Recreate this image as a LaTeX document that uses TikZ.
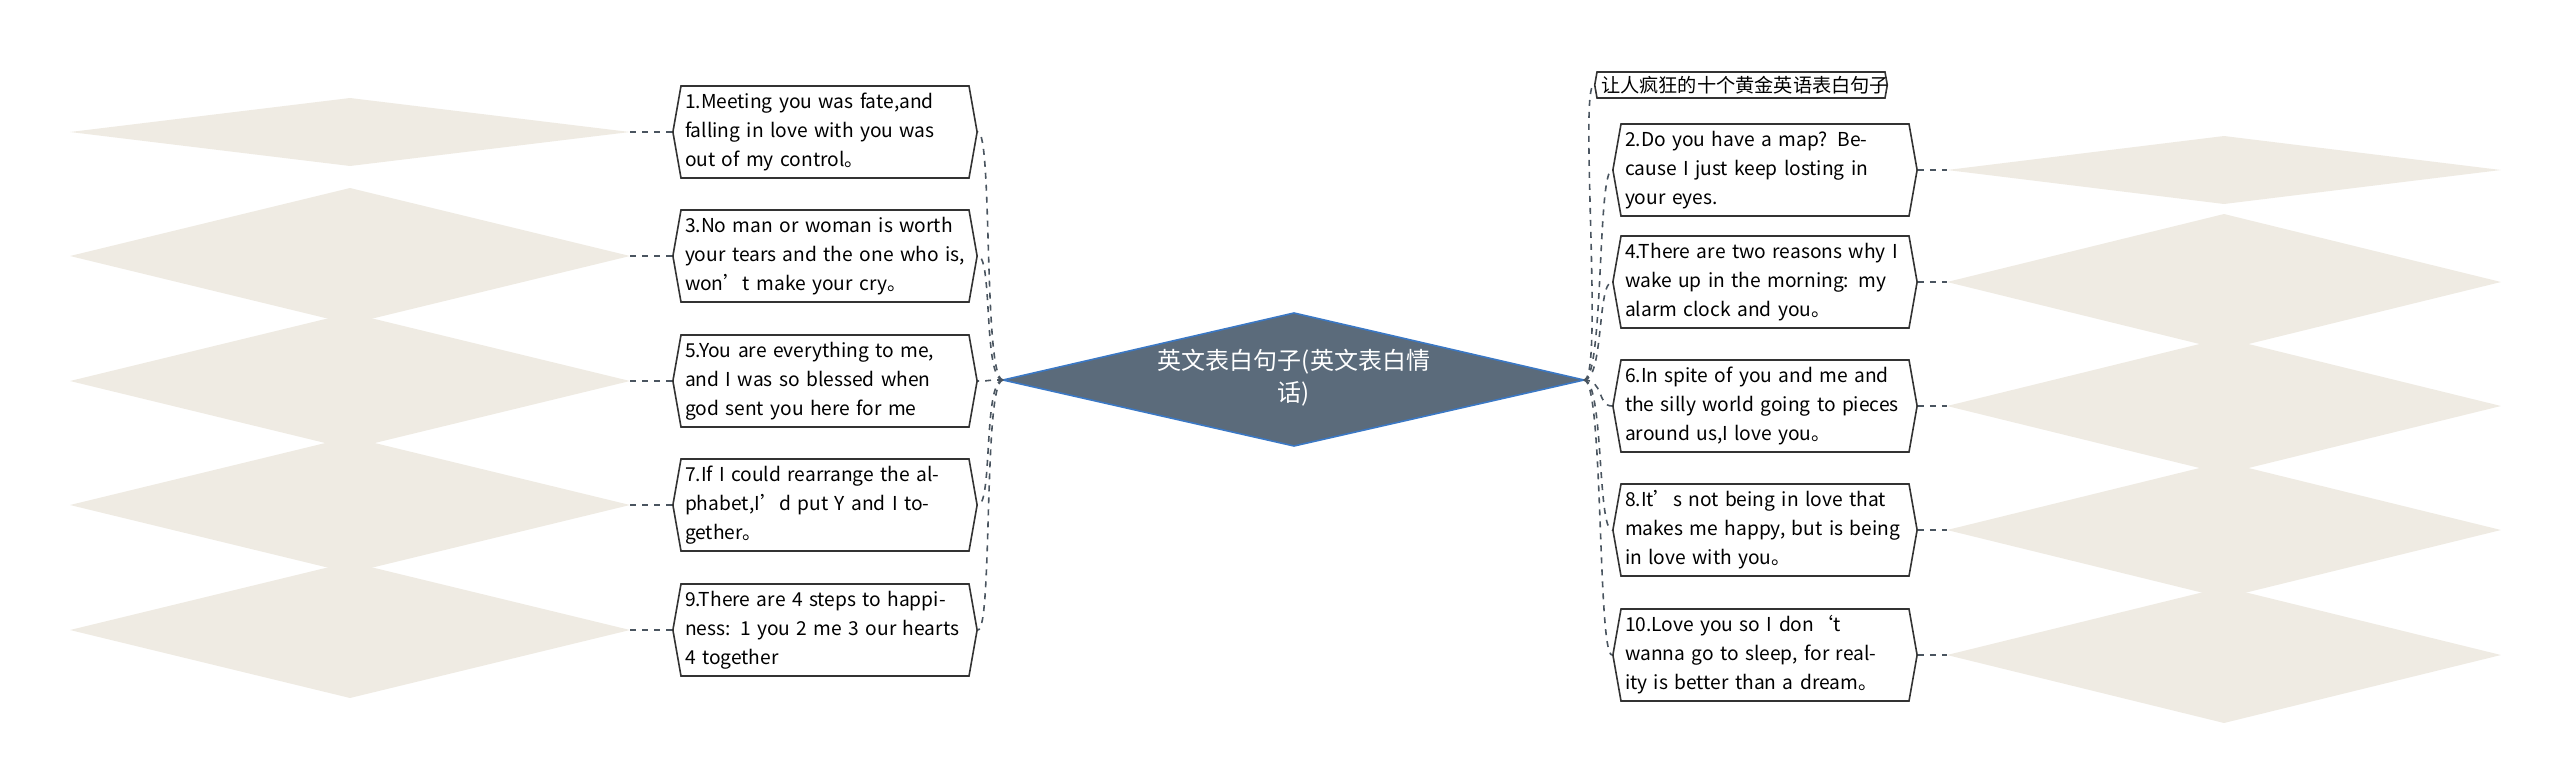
\documentclass[tikz,border=0pt]{standalone}
\usepackage{fontspec}
\setmainfont{Noto Sans CJK SC}
\usetikzlibrary{shapes.symbols}
\definecolor{leaffill}{HTML}{EFEBE3}
\definecolor{hubfill}{HTML}{5B6B7B}
\definecolor{hubline}{HTML}{3B78C4}
\definecolor{lnk}{HTML}{4A5560}
\tikzset{
  boxnode/.style={signal, signal to=west and east, signal pointer angle=160, draw=black!80, line width=0.8pt, fill=white, text width=140pt, align=left, font=\fontsize{9.6}{14.5}\selectfont, inner xsep=2pt, inner ysep=3pt, minimum height=46pt},
  leaftext/.style={anchor=west, text width=150pt, align=left, font=\fontsize{7.6}{11}\selectfont, inner sep=0pt},
  lnkline/.style={draw=lnk, dashed, line width=0.8pt}
}
\newcommand{\myleaf}[6]{% name, cx, cy, halfw, halfh, textx, text
  \fill[leaffill] (#2-#4,#3) -- (#2,#3-#5) -- (#2+#4,#3) -- (#2,#3+#5) -- cycle;
  \coordinate (#1w) at (#2-#4,#3);
  \coordinate (#1e) at (#2+#4,#3);
}
\begin{document}
\begin{tikzpicture}[x=0.5pt,y=-0.5pt]
\useasboundingbox (0,0) rectangle (2560,756);
% hub
\fill[hubfill] (1003,380) -- (1294,313) -- (1584,380) -- (1294,446) -- cycle;
\draw[hubline, line width=0.8pt] (1003,380) -- (1294,313) -- (1584,380) -- (1294,446) -- cycle;
\coordinate (hw) at (1003,380);
\coordinate (he) at (1584,380);
\node[text=white, align=center, font=\fontsize{12}{16}\selectfont] (hub) at (1294,378) {英文表白句子(英文表白情\\话)};
% left boxes
\node[boxnode] (b1) at (825,132) {1.Meeting you was fate,and falling in love with you was out of my control。};
\node[boxnode] (b3) at (825,256) {3.No man or woman is worth your tears and the one who is, won't make your cry。};
\node[boxnode] (b5) at (825,381) {5.You are everything to me, and I was so blessed when god sent you here for me};
\node[boxnode] (b7) at (825,505) {7.If I could rearrange the alphabet,I'd put Y and I together。};
\node[boxnode] (b9) at (825,630) {9.There are 4 steps to happiness: 1 you 2 me 3 our hearts 4 together};
% right boxes
\node[boxnode, text width=140pt, minimum height=0pt, inner ysep=2pt] (t0) at (1741,85) {让人疯狂的十个黄金英语表白句子};
\node[boxnode] (b2) at (1765,170) {2.Do you have a map? Because I just keep losting in your eyes.};
\node[boxnode] (b4) at (1765,282) {4.There are two reasons why I wake up in the morning: my alarm clock and you。};
\node[boxnode] (b6) at (1765,406) {6.In spite of you and me and the silly world going to pieces around us,I love you。};
\node[boxnode] (b8) at (1765,530) {8.It's not being in love that makes me happy, but is being in love with you。};
\node[boxnode] (b10) at (1765,655) {10.Love you so I don`t wanna go to sleep, for reality is better than a dream。};
% left leaves
\myleaf{l1}{350}{132}{280}{34}
\node[leaftext] (lt1) at (206,132) {遇见你是命运的安排而爱上你是我情不自禁。};
\myleaf{l3}{350}{256}{280}{68}
\node[leaftext] (lt3) at (206,256) {没人值得你为ta流泪英文表白句子，真正爱你的人不会让你哭泣。};
\myleaf{l5}{350}{381}{280}{68}
\node[leaftext] (lt5) at (206,381) {你是我的一切英文表白句子，我是如此幸运上帝让你来到我身边。};
\myleaf{l7}{350}{505}{280}{68}
\node[leaftext] (lt7) at (206,505) {如果我能重新来排列字母，我要把Y(你)跟I(我)在一起。};
\myleaf{l9}{350}{630}{280}{68}
\node[leaftext] (lt9) at (206,630) {通过四步就能幸福：1 你 2 我 3 我们的心 4 在一起。};
% right leaves
\myleaf{r2}{2224}{170}{277}{34}
\node[leaftext] (rt2) at (2087,170) {你有地图么?因为我刚在你的眼神中迷失了。};
\myleaf{r4}{2224}{282}{277}{68}
\node[leaftext] (rt4) at (2087,282) {我早上愿意醒来为两个理由英文表白句子：闹钟和你。};
\myleaf{r6}{2224}{406}{277}{68}
\node[leaftext] (rt6) at (2087,406) {哪怕是世界末日英文表白句子，我都会爱你。};
\myleaf{r8}{2224}{530}{277}{68}
\node[leaftext] (rt8) at (2087,530) {不是恋爱的感觉让我幸福而是爱上你的感觉让我幸福。};
\myleaf{r10}{2224}{655}{277}{68}
\node[leaftext] (rt10) at (2087,655) {爱你所以我不愿去睡觉，因为现实比梦境更美好。};
% connectors
\foreach \b in {b1,b3,b5,b7,b9}
  \draw[lnkline] (hw) .. controls +(-20,0) and +(15,0) .. (\b.east);
\foreach \b in {t0,b2,b4,b6,b8,b10}
  \draw[lnkline] (he) .. controls +(20,0) and +(-15,0) .. (\b.west);
\foreach \l/\b in {l1/b1,l3/b3,l5/b5,l7/b7,l9/b9}
  \draw[lnkline] (\l e) -- (\b.west);
\foreach \l/\b in {r2/b2,r4/b4,r6/b6,r8/b8,r10/b10}
  \draw[lnkline] (\b.east) -- (\l w);
\end{tikzpicture}
\end{document}
